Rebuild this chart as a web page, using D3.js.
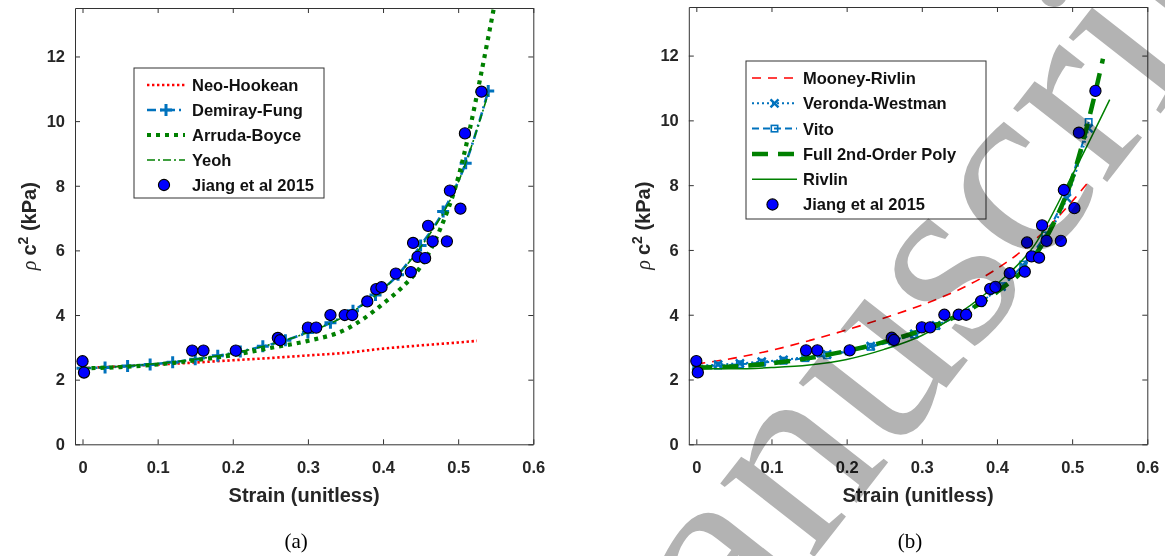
<!DOCTYPE html>
<html>
<head>
<meta charset="utf-8">
<script src="https://cdn.jsdelivr.net/npm/d3@7"></script>
<style>
  body { margin: 0; background: #fff; }
  svg { display: block; font-family: "Liberation Sans", Arial, sans-serif; }
</style>
</head>
<body>
<svg id="chart" width="1165" height="556"></svg>
<script>
// ---- data ----
const jiangStrain = [0.000, 0.002, 0.146, 0.161, 0.204, 0.260, 0.263, 0.300, 0.311, 0.330,
  0.349, 0.359, 0.379, 0.391, 0.398, 0.417, 0.437, 0.440, 0.446, 0.456,
  0.460, 0.466, 0.485, 0.489, 0.503, 0.509, 0.531];
const jiangStress = [2.57, 2.22, 2.90, 2.90, 2.90, 3.29, 3.22, 3.61, 3.61, 4.00,
  4.00, 4.00, 4.42, 4.80, 4.86, 5.28, 5.33, 6.23, 5.80, 5.76,
  6.76, 6.28, 6.28, 7.85, 7.29, 9.62, 10.91];

// panel (a)
const neoHookean = [[0, 2.36], [0.05, 2.41], [0.1, 2.47], [0.15, 2.53], [0.2, 2.6], [0.25, 2.67],
  [0.3, 2.75], [0.35, 2.83], [0.4, 2.96], [0.45, 3.06], [0.5, 3.15], [0.525, 3.2]];
const demirayFung = [[0, 2.35], [0.03, 2.38], [0.06, 2.42], [0.09, 2.47], [0.12, 2.54], [0.15, 2.63],
  [0.18, 2.74], [0.21, 2.87], [0.24, 3.03], [0.27, 3.22], [0.3, 3.46], [0.33, 3.76], [0.36, 4.13],
  [0.39, 4.62], [0.42, 5.25], [0.45, 6.15], [0.48, 7.2], [0.51, 8.7], [0.54, 10.93]];
const arrudaBoyce = [[0, 2.35], [0.05, 2.39], [0.1, 2.47], [0.15, 2.6], [0.2, 2.76], [0.25, 2.98],
  [0.3, 3.2], [0.35, 3.55], [0.375, 3.9], [0.4, 4.35], [0.425, 4.85], [0.45, 5.5], [0.475, 6.6],
  [0.5, 8.25], [0.515, 9.7], [0.53, 11.4], [0.55, 13.8]];
const yeoh = [[0, 2.35], [0.05, 2.41], [0.1, 2.5], [0.15, 2.63], [0.2, 2.82], [0.25, 3.09],
  [0.3, 3.46], [0.35, 3.98], [0.4, 4.8], [0.45, 6.1], [0.5, 8.1], [0.54, 10.85]];

// panel (b)
const mooneyRivlin = [[0, 2.48], [0.05, 2.66], [0.1, 2.9], [0.15, 3.2], [0.2, 3.53], [0.25, 3.9],
  [0.3, 4.3], [0.35, 4.78], [0.4, 5.42], [0.45, 6.3], [0.5, 7.5], [0.52, 8.05]];
const verondaWestman = [[0, 2.42], [0.029, 2.46], [0.058, 2.5], [0.087, 2.55], [0.116, 2.61],
  [0.145, 2.69], [0.174, 2.78], [0.203, 2.89], [0.232, 3.03], [0.261, 3.2], [0.29, 3.41],
  [0.319, 3.67], [0.348, 3.98], [0.377, 4.37], [0.406, 4.87], [0.435, 5.5], [0.464, 6.35],
  [0.493, 7.6], [0.522, 9.75]];
const vito = [[0, 2.4], [0.029, 2.43], [0.058, 2.47], [0.087, 2.52], [0.116, 2.58], [0.145, 2.66],
  [0.174, 2.75], [0.203, 2.87], [0.232, 3.01], [0.261, 3.18], [0.29, 3.39], [0.319, 3.65],
  [0.348, 3.97], [0.377, 4.37], [0.406, 4.88], [0.435, 5.55], [0.464, 6.45], [0.493, 7.8],
  [0.522, 9.95]];
const fullPoly = [[0, 2.37], [0.05, 2.4], [0.1, 2.5], [0.15, 2.66], [0.2, 2.88], [0.25, 3.16],
  [0.3, 3.52], [0.35, 4.0], [0.4, 4.7], [0.45, 5.8], [0.475, 6.8], [0.5, 8.2], [0.525, 10.3],
  [0.541, 11.9]];
const rivlin = [[0, 2.33], [0.05, 2.33], [0.1, 2.37], [0.15, 2.45], [0.2, 2.62], [0.25, 2.93],
  [0.3, 3.36], [0.35, 4.05], [0.4, 4.95], [0.45, 6.15], [0.5, 8.3], [0.55, 10.64]];

const xTicks = [0, 0.1, 0.2, 0.3, 0.4, 0.5, 0.6];
const yTicks = [0, 2, 4, 6, 8, 10, 12];
const xLabel = "Strain (unitless)";
const captions = ["(a)", "(b)"];
const watermark = "manuscript";

// ---- styles ----
const blue = "#0072BD", green = "#008000", red = "#FF0000", axisColor = "#333";
const jiang = jiangStrain.map((s, i) => [s, jiangStress[i]]);

const seriesA = [
  { name: "Neo-Hookean", data: neoHookean, color: red, width: 2.6, dash: "2.4,2.6" },
  { name: "Demiray-Fung", data: demirayFung, color: blue, width: 2.6, dash: "9,4,2,4", marker: "plus" },
  { name: "Arruda-Boyce", data: arrudaBoyce, color: green, width: 4.2, dash: "4,5" },
  { name: "Yeoh", data: yeoh, color: green, width: 1.6, dash: "8,3,2,3" }
];
const seriesB = [
  { name: "Mooney-Rivlin", data: mooneyRivlin, color: red, width: 1.6, dash: "9,7" },
  { name: "Veronda-Westman", data: verondaWestman, color: blue, width: 2, dash: "2,3", marker: "cross" },
  { name: "Vito", data: vito, color: blue, width: 2, dash: "7,4", marker: "square" },
  { name: "Full 2nd-Order Poly", data: fullPoly, color: green, width: 4.5, dash: "16,10" },
  { name: "Rivlin", data: rivlin, color: green, width: 1.5, dash: null }
];

const svg = d3.select("#chart");
svg.append("rect").attr("width", 1165).attr("height", 556).attr("fill", "#fff");

function drawMarker(sel, type, color) {
  if (type === "plus") {
    sel.append("path").attr("d", "M-6,0H6M0,-6V6")
      .attr("stroke", color).attr("stroke-width", 3).attr("fill", "none");
  } else if (type === "cross") {
    sel.append("path").attr("d", "M-4,-4L4,4M-4,4L4,-4")
      .attr("stroke", color).attr("stroke-width", 2.4).attr("fill", "none");
  } else if (type === "square") {
    sel.append("rect").attr("x", -3.2).attr("y", -3.2).attr("width", 6.4).attr("height", 6.4)
      .attr("stroke", color).attr("stroke-width", 1.6).attr("fill", "none");
  }
}

function panel({ id, left, right, top, bottom, series, legend, caption }) {
  const x = d3.scaleLinear().domain([-0.01, 0.6]).range([left, right]);
  const y = d3.scaleLinear().domain([0, 13.5]).range([bottom, top]);
  const g = svg.append("g");

  g.append("clipPath").attr("id", id + "Clip")
    .append("rect").attr("x", left).attr("y", top)
    .attr("width", right - left).attr("height", bottom - top);

  const line = d3.line().x(d => x(d[0])).y(d => y(d[1])).curve(d3.curveMonotoneX);
  const plot = g.append("g").attr("clip-path", `url(#${id}Clip)`);

  series.forEach(s => {
    plot.append("path").datum(s.data)
      .attr("d", line).attr("fill", "none")
      .attr("stroke", s.color).attr("stroke-width", s.width)
      .attr("stroke-dasharray", s.dash);
    if (s.marker) {
      plot.append("g").selectAll("g").data(s.data).join("g")
        .attr("transform", d => `translate(${x(d[0])},${y(d[1])})`)
        .each(function () { drawMarker(d3.select(this), s.marker, s.color); });
    }
  });

  plot.append("g").selectAll("circle").data(jiang).join("circle")
    .attr("cx", d => x(d[0])).attr("cy", d => y(d[1])).attr("r", 5.6)
    .attr("fill", "#0000FF").attr("stroke", "#000").attr("stroke-width", 1.1);

  // axes (MATLAB-style box with inward ticks)
  const styleAxis = a => {
    a.selectAll("path,line").attr("stroke", axisColor).attr("stroke-width", 1);
    a.selectAll("text").attr("fill", "#262626").attr("font-size", 16.5).attr("font-weight", "bold");
  };
  g.append("g").attr("transform", `translate(0,${bottom})`)
    .call(d3.axisBottom(x).tickValues(xTicks).tickFormat(d => d).tickSizeInner(-5).tickSizeOuter(0).tickPadding(17))
    .call(styleAxis);
  g.append("g").attr("transform", `translate(0,${top})`)
    .call(d3.axisTop(x).tickValues(xTicks).tickFormat("").tickSizeInner(-5).tickSizeOuter(0))
    .call(styleAxis);
  g.append("g").attr("transform", `translate(${left},0)`)
    .call(d3.axisLeft(y).tickValues(yTicks).tickFormat(d => d).tickSizeInner(-5).tickSizeOuter(0).tickPadding(10))
    .call(styleAxis);
  g.append("g").attr("transform", `translate(${right},0)`)
    .call(d3.axisRight(y).tickValues(yTicks).tickFormat("").tickSizeInner(-5).tickSizeOuter(0))
    .call(styleAxis);
  g.selectAll(".domain").attr("fill", "none");

  // labels
  g.append("text").attr("x", (left + right) / 2).attr("y", 502)
    .attr("text-anchor", "middle").attr("font-size", 20).attr("font-weight", "bold")
    .attr("fill", "#262626").text(xLabel);

  const yl = g.append("text")
    .attr("transform", `translate(${left - 39},${(top + bottom) / 2}) rotate(-90)`)
    .attr("text-anchor", "middle").attr("font-size", 20).attr("fill", "#262626");
  yl.append("tspan").attr("font-family", "'Liberation Serif', serif").attr("font-style", "italic").text("ρ ");
  yl.append("tspan").attr("font-weight", "bold").text("c");
  yl.append("tspan").attr("font-weight", "bold").attr("font-size", 14).attr("dy", -8).text("2");
  yl.append("tspan").attr("font-weight", "bold").attr("dy", 8).text(" (kPa)");

  // legend
  const items = series.map(s => s).concat([{ name: "Jiang et al 2015", circle: true }]);
  const lg = g.append("g");
  lg.append("rect").attr("x", legend.x).attr("y", legend.y)
    .attr("width", legend.w).attr("height", legend.h)
    .attr("fill", "#fff").attr("stroke", axisColor).attr("stroke-width", 1);
  items.forEach((s, i) => {
    const cy = legend.y + 17 + i * legend.step;
    const row = lg.append("g");
    if (s.circle) {
      row.append("circle").attr("cx", legend.x1 + (legend.x2 - legend.x1) / 2 - 2).attr("cy", cy).attr("r", 5.6)
        .attr("fill", "#0000FF").attr("stroke", "#000").attr("stroke-width", 1.1);
    } else {
      row.append("line").attr("x1", legend.x1).attr("x2", legend.x2).attr("y1", cy).attr("y2", cy)
        .attr("stroke", s.color).attr("stroke-width", s.width).attr("stroke-dasharray", s.dash);
      if (s.marker) {
        const m = row.append("g").attr("transform", `translate(${(legend.x1 + legend.x2) / 2},${cy})`);
        drawMarker(m, s.marker, s.color);
      }
    }
    row.append("text").attr("x", legend.tx).attr("y", cy).attr("dy", "0.36em")
      .attr("font-size", 16.5).attr("font-weight", "bold").attr("fill", "#111").text(s.name);
  });

  svg.append("text").attr("x", (left + right) / 2 - 8).attr("y", 548)
    .attr("text-anchor", "middle").attr("font-family", "'Liberation Serif', serif")
    .attr("font-size", 21).attr("fill", "#000").text(caption);
}

panel({
  id: "pa", left: 75, right: 533.3, top: 8, bottom: 444.3, series: seriesA, caption: captions[0],
  legend: { x: 134, y: 68, w: 190, h: 130, step: 25, x1: 147, x2: 185, tx: 192 }
});
panel({
  id: "pb", left: 688.8, right: 1147.3, top: 7, bottom: 444.3, series: seriesB, caption: captions[1],
  legend: { x: 746, y: 61, w: 240, h: 158, step: 25.3, x1: 752, x2: 797, tx: 803 }
});

// watermark over panel (b)
svg.append("text")
  .attr("transform", "translate(615,812) rotate(-52)")
  .attr("font-family", "'Liberation Serif', serif").attr("font-size", 260)
  .attr("fill", "#b3b3b3").style("mix-blend-mode", "multiply")
  .text(watermark);
</script>
</body>
</html>
